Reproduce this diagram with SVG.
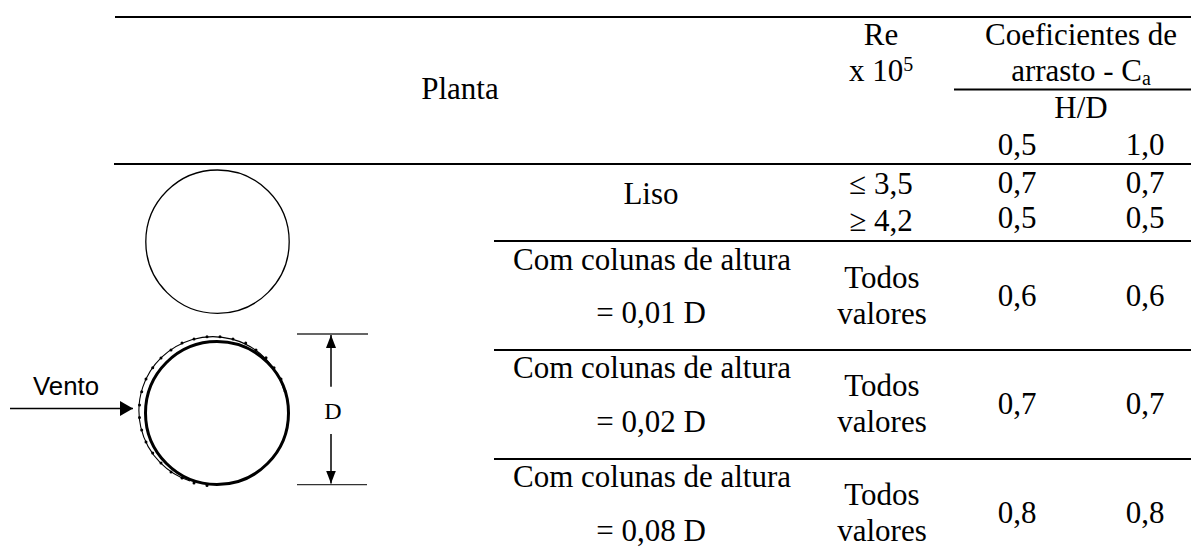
<svg xmlns="http://www.w3.org/2000/svg" width="1191" height="559" viewBox="0 0 1191 559">
<style>
text{font-family:"Liberation Serif","Times New Roman",serif;font-size:31px;fill:#000;text-anchor:middle}
.sans{font-family:"Liberation Sans",Arial,sans-serif;font-size:25.8px}
.d{font-size:24px}
.rule{stroke:#000;stroke-width:2;fill:none}
.dim{stroke:#333;stroke-width:1.3;fill:none}
.ar{stroke:#000;stroke-width:1.5;fill:none}
</style>
<defs>
<marker id="ah" viewBox="0 0 13 15" refX="13" refY="7.5" markerWidth="13" markerHeight="15" markerUnits="userSpaceOnUse" orient="auto"><path d="M0 0L13 7.5L0 15Z" fill="#000"/></marker>
<marker id="ahd" viewBox="0 0 13 10" refX="13" refY="5" markerWidth="13" markerHeight="10" markerUnits="userSpaceOnUse" orient="auto"><path d="M0 0L13 5L0 10Z" fill="#000"/></marker>
<circle id="p" r="1.5" fill="#000"/>
</defs>
<rect width="1191" height="559" fill="#fff"/>
<g id="table-rules">
<path class="rule" d="M115 17H1191M954 89.5H1191M114 164H1191M494 241H1191M494 350H1191M494 459H1191"/>
</g>
<g id="header">
<text x="460" y="99">Planta</text>
<text x="881" y="45">Re</text>
<text x="881" y="81">x 10<tspan dy="-10" font-size="20">5</tspan></text>
<text x="1081" y="45">Coeficientes de</text>
<text x="1081" y="81">arrasto - C<tspan dy="4" font-size="20">a</tspan></text>
<text x="1081" y="118">H/D</text>
<text x="1017" y="155">0,5</text>
<text x="1145" y="155">1,0</text>
</g>
<g id="row-liso">
<text x="651" y="204">Liso</text>
<text x="881" y="194">≤ 3,5</text><text x="1017" y="193">0,7</text><text x="1145" y="193">0,7</text>
<text x="881" y="231">≥ 4,2</text><text x="1017" y="228">0,5</text><text x="1145" y="228">0,5</text>
</g>
<g id="row-001">
<text x="652" y="270">Com colunas de altura</text><text x="651" y="323">= 0,01 D</text>
<text x="882" y="288">Todos</text><text x="882" y="324">valores</text>
<text x="1017" y="306">0,6</text><text x="1145" y="306">0,6</text>
</g>
<g id="row-002">
<text x="652" y="378">Com colunas de altura</text><text x="651" y="432">= 0,02 D</text>
<text x="882" y="396">Todos</text><text x="882" y="432">valores</text>
<text x="1017" y="414">0,7</text><text x="1145" y="414">0,7</text>
</g>
<g id="row-008">
<text x="652" y="487">Com colunas de altura</text><text x="651" y="541">= 0,08 D</text>
<text x="882" y="505">Todos</text><text x="882" y="541">valores</text>
<text x="1017" y="523">0,8</text><text x="1145" y="523">0,8</text>
</g>
<g id="plain-circle"><circle cx="217.5" cy="241.7" r="71.7" fill="none" stroke="#000" stroke-width="1.3"/></g>
<g id="ribbed-circle">
<circle cx="217" cy="413" r="71.5" fill="#fff" stroke="#000" stroke-width="3"/>
<path d="M284 390A74 74 0 1 0 190 481" fill="none" stroke="#000" stroke-width="1.1"/>
<use href="#p" x="139.5" y="405"/><use href="#p" x="139.5" y="417.5"/><use href="#p" x="141.7" y="391.7"/><use href="#p" x="146" y="379"/><use href="#p" x="152.7" y="367.7"/><use href="#p" x="161" y="358"/><use href="#p" x="171" y="350"/><use href="#p" x="182" y="343"/><use href="#p" x="194" y="339"/><use href="#p" x="207" y="336.7"/><use href="#p" x="220" y="336.7"/><use href="#p" x="233" y="339"/><use href="#p" x="245.7" y="343"/><use href="#p" x="256" y="350"/><use href="#p" x="266" y="357.7"/><use href="#p" x="274" y="367.7"/><use href="#p" x="281" y="379"/><use href="#p" x="285" y="391"/><use href="#p" x="141.7" y="430"/><use href="#p" x="146" y="442"/><use href="#p" x="152.7" y="453"/><use href="#p" x="161" y="463"/><use href="#p" x="171" y="472"/><use href="#p" x="182" y="478"/><use href="#p" x="194" y="483"/><use href="#p" x="207" y="485.5"/>
</g>
<g id="connectors">
<path class="ar" d="M10 408.5H133" marker-end="url(#ah)"/>
<path class="dim" d="M297 334H368M297 484.7H367"/>
<path class="ar" d="M331 386.7V335" marker-end="url(#ahd)"/>
<path class="ar" d="M331 434V483.5" marker-end="url(#ahd)"/>
</g>
<g id="labels">
<text class="sans" x="66" y="395">Vento</text>
<text class="d" x="333" y="419">D</text>
</g>
</svg>
